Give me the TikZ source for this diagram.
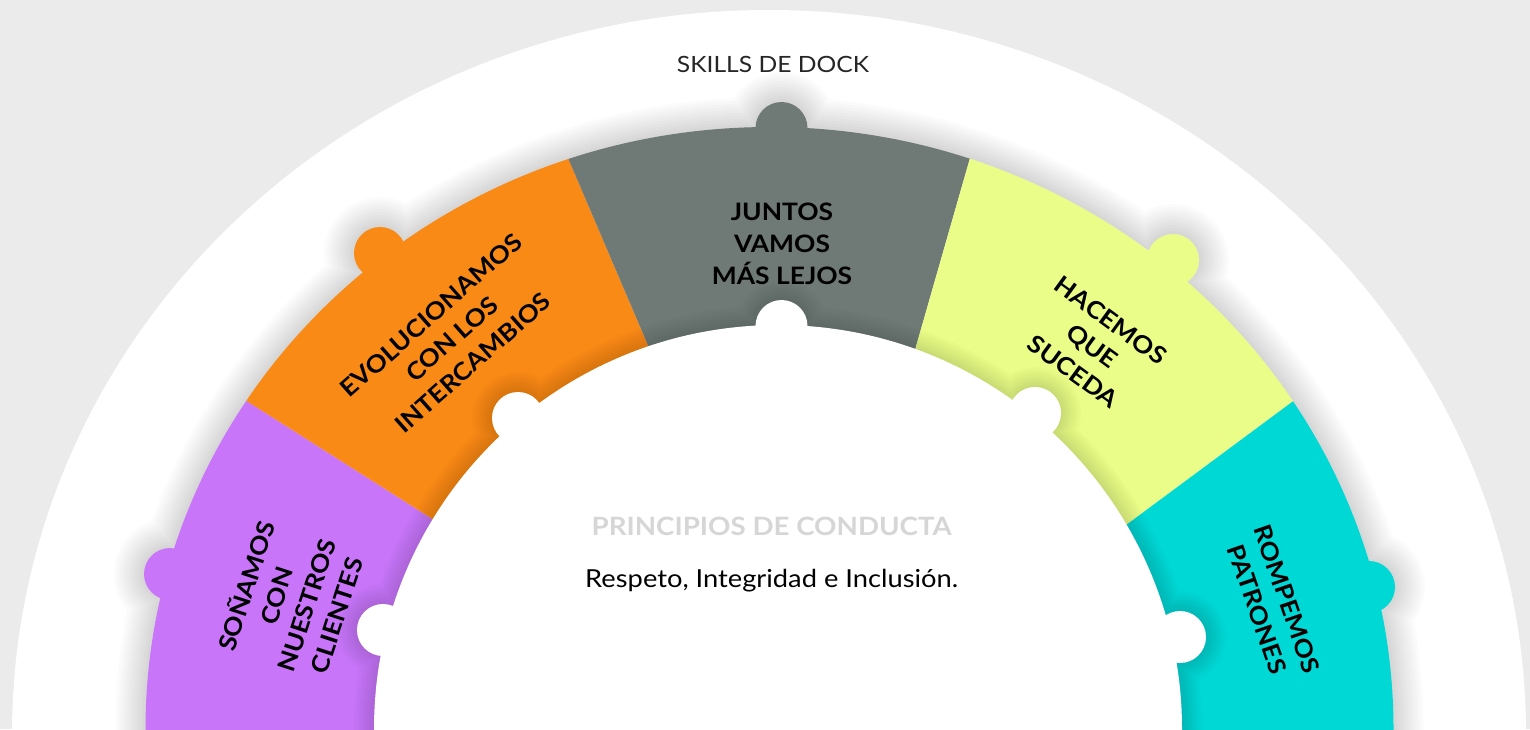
\documentclass[tikz,border=0pt]{standalone}
\usepackage{fontspec}
\setmainfont{Lato}[FakeStretch=1.1]
\usetikzlibrary{calc}

\definecolor{bggray}{HTML}{EBEBEB}
\definecolor{dreampurple}{HTML}{C875F9}
\definecolor{evolveorange}{HTML}{F98A16}
\definecolor{togethergray}{HTML}{6F7976}
\definecolor{makeyellow}{HTML}{EAFD88}
\definecolor{breakcyan}{HTML}{00D8D6}
\definecolor{titlegray}{HTML}{D6D6D6}

\begin{document}
\begin{tikzpicture}[x=0.5pt, y=-0.5pt,
  skilltext/.style={font=\fontsize{12}{15.85}\selectfont\bfseries, align=center, text=black, inner sep=0pt},
  softshadow/.style={draw=black, opacity=0.014, line width=#1}]

  \useasboundingbox (0,0) rectangle (1530,729);
  \clip (0,0) rectangle (1530,729);

  \fill[bggray] (0,0) rectangle (1530,729);
  \fill[white] (769,735) ellipse [x radius=757, y radius=725]; % outer white

  % segment borders (inner point, outer point)
  \coordinate (ain) at (434,520);   \coordinate (aout) at (253,405);
  \coordinate (bin) at (650,350);   \coordinate (bout) at (568,158);
  \coordinate (cin) at (915,350);   \coordinate (cout) at (970,158);
  \coordinate (din) at (1121.7,528.3); \coordinate (dout) at (1288,405);
  \foreach \s in {a,b,c,d} {
    \coordinate (\s0) at ($(\s in)!-0.6!(\s out)$);
    \coordinate (\s1) at ($(\s in)!1.7!(\s out)$);
  }

  % ring shadow
  \foreach \w in {6,12,...,60}
    \path[softshadow=\w*0.5pt] (769.5,729) ellipse [x radius=624, y radius=602]
      (170,574) circle [radius=26] (380,253) circle [radius=26]
      (781.5,128) circle [radius=26] (1173,260) circle [radius=26]
      (1369,587) circle [radius=26];

  % ring segments
  \begin{scope}
    \clip (769.5,729) ellipse [x radius=624, y radius=602];
    \fill[dreampurple]  (a0) -- (a1) -- (-100,324) -- (-100,800) -- (560,800) -- cycle;
    \fill[evolveorange] (a0) -- (a1) -- (b1) -- (b0) -- cycle;
    \fill[togethergray] (b0) -- (b1) -- (c1) -- (c0) -- cycle;
    \fill[makeyellow]   (c0) -- (c1) -- (d1) -- (d0) -- cycle;
    \fill[breakcyan]    (d0) -- (d1) -- (1630,318) -- (1630,800) -- (1000,800) -- cycle;
  \end{scope}

  % outer knobs
  \fill[dreampurple]  (170,574) circle [radius=26];
  \fill[evolveorange] (380,253) circle [radius=26];
  \fill[togethergray] (781.5,128) circle [radius=26];
  \fill[makeyellow]   (1173,260) circle [radius=26];
  \fill[breakcyan]    (1369,587) circle [radius=26];

  % inner shadow
  \foreach \w in {5,10,...,40}
    \path[softshadow=\w*0.5pt] (778,729) circle [radius=404]
      (383,630) circle [radius=26] (518,418) circle [radius=26]
      (781.5,326) circle [radius=26] (1035,413) circle [radius=26]
      (1180,637) circle [radius=26];

  % inner white
  \fill[white] (778,729) circle [radius=404]
    (383,630) circle [radius=26] (518,418) circle [radius=26]
    (781.5,326) circle [radius=26] (1035,413) circle [radius=26]
    (1180,637) circle [radius=26];

  % segment labels
  \node[skilltext, rotate=72]   (dream)    at (290,600)  {SOÑAMOS\\CON\\NUESTROS\\CLIENTES};
  \node[skilltext, rotate=41.5] (evolve)   at (452,339)  {EVOLUCIONAMOS\\CON LOS\\INTERCAMBIOS};
  \node[skilltext]              (together) at (782,244)  {JUNTOS\\VAMOS\\MÁS LEJOS};
  \node[skilltext, rotate=-36]  (make)     at (1092,346) {HACEMOS\\QUE\\SUCEDA};
  \node[skilltext, rotate=-71]  (break)    at (1272,604) {ROMPEMOS\\PATRONES};

  % titles
  \node[font=\fontsize{11.2}{13}\selectfont, text=black!85, anchor=base] (skills) at (773,72.7) {SKILLS DE DOCK};
  \node[font=\fontsize{12.6}{15}\selectfont\bfseries, text=titlegray, anchor=base] (principles) at (771.7,535) {PRINCIPIOS DE CONDUCTA};
  \node[font=\fontsize{12.4}{15}\selectfont, text=black, anchor=base] (values) at (771.7,587.3) {Respeto, Integridad e Inclusión.};

\end{tikzpicture}
\end{document}
